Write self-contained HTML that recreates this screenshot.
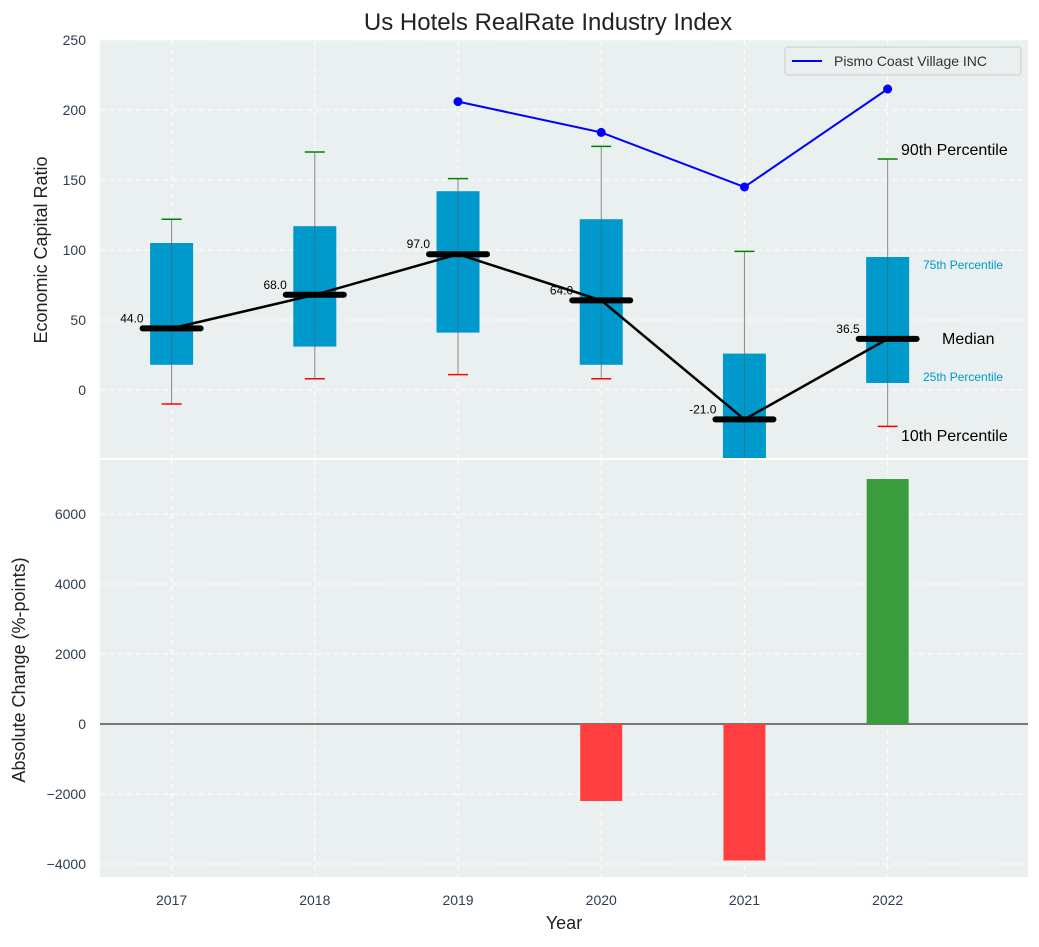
<!DOCTYPE html>
<html><head><meta charset="utf-8"><style>
body{margin:0;background:#fff;}
svg text{font-family:"Liberation Sans","DejaVu Sans",sans-serif;}
</style></head><body>
<svg id="c" width="1039" height="942" xmlns="http://www.w3.org/2000/svg"></svg>
<script>
const years=["2017","2018","2019","2020","2021","2022"];
const p10=[-10,8,11,8,-60,-26];
const p25=[18,31,41,18,-60,5];
const medians=[44,68,97,64,-21,36.5];
const p75=[105,117,142,122,26,95];
const p90=[122,170,151,174,99,165];
const companyYears=[2,3,4,5];
const companyVals=[206,184,145,215];
const changeVals=[0,0,0,-2200,-3900,7000];
const topTicks=[0,50,100,150,200,250];
const botTicks=[-4000,-2000,0,2000,4000,6000];

const NS="http://www.w3.org/2000/svg";
const svg=document.getElementById('c');
function el(t,a,p){const e=document.createElementNS(NS,t);for(const k in a)e.setAttribute(k,a[k]);(p||svg).appendChild(e);return e;}
const L=100,R=1028,T1=40,B1=458,T2=460,B2=877;
const x=i=>L+(i+0.5)*(R-L)/6.48;
const y1=v=>390-v*1.4;
const y2=v=>724-v*0.035;

// backgrounds
let bg1=el('rect',{x:L,y:T1,width:R-L,height:B1-T1,fill:'#eaeff0'});


let bg2=el('rect',{x:L,y:T2,width:R-L,height:B2-T2,fill:'#eaeff0'});



// grids
topTicks.forEach(v=>{el('line',{x1:L,x2:R,y1:y1(v),y2:y1(v),stroke:'#fff','stroke-dasharray':'5,4'});
 const t=el('text',{x:86,y:y1(v)+5,'text-anchor':'end','font-size':14,fill:'#2c3e50'});t.textContent=v;
 
 });
botTicks.forEach(v=>{el('line',{x1:L,x2:R,y1:y2(v),y2:y2(v),stroke:'#fff','stroke-dasharray':'5,4'});
 const t=el('text',{x:86,y:y2(v)+5,'text-anchor':'end','font-size':14,fill:'#2c3e50'});t.textContent=v<0?'\u2212'+Math.abs(v):v;
 
 });
years.forEach((yr,i)=>{
 el('line',{x1:x(i),x2:x(i),y1:T1,y2:B1,stroke:'#fff','stroke-dasharray':'5,4'});
 el('line',{x1:x(i),x2:x(i),y1:T2,y2:B2,stroke:'#fff','stroke-dasharray':'5,4'});
 const t=el('text',{x:x(i),y:905,'text-anchor':'middle','font-size':14,fill:'#2c3e50'});t.textContent=yr;
 
 
});

// clip for top
const defs=el('defs',{});const cp=el('clipPath',{id:'cp1'},defs);el('rect',{x:L,y:T1,width:R-L,height:B1-T1},cp);
const g=el('g',{'clip-path':'url(#cp1)'});

years.forEach((yr,i)=>{
 const cx=x(i);
 el('line',{x1:cx,x2:cx,y1:y1(p90[i]),y2:y1(p10[i]),stroke:'#888','stroke-width':1},g);
 const b=el('rect',{x:cx-21.5,y:y1(p75[i]),width:43,height:y1(p25[i])-y1(p75[i]),fill:'#0099cc'},g);
 
 
 el('line',{x1:cx,x2:cx,y1:y1(p75[i]),y2:y1(p25[i]),stroke:'#555','stroke-width':0.8,opacity:0.6},g);
 el('line',{x1:cx-10,x2:cx+10,y1:y1(p90[i]),y2:y1(p90[i]),stroke:'green','stroke-width':1.5},g);
 el('line',{x1:cx-10,x2:cx+10,y1:y1(p10[i]),y2:y1(p10[i]),stroke:'red','stroke-width':1.5},g);
});
let pts=medians.map((m,i)=>x(i)+','+y1(m)).join(' ');
let ml=el('polyline',{points:pts,fill:'none',stroke:'#000','stroke-width':2.5},g);


medians.forEach((m,i)=>{
 const cx=x(i);
 el('line',{x1:cx-29,x2:cx+29,y1:y1(m),y2:y1(m),stroke:'#000','stroke-width':6,'stroke-linecap':'round'},g);
 const t=el('text',{x:cx-28,y:y1(m)-6,'text-anchor':'end','font-size':12,fill:'#000'});t.textContent=m.toFixed(1);
 
 
});
let cl=el('polyline',{points:companyVals.map((v,k)=>x(companyYears[k])+','+y1(v)).join(' '),fill:'none',stroke:'blue','stroke-width':2},g);


companyVals.forEach((v,k)=>el('circle',{cx:x(companyYears[k]),cy:y1(v),r:4.5,fill:'blue'},g));

// annotations
[['90th Percentile',901,155,16,'#000'],['75th Percentile',923,269,12,'#0099cc'],['Median',942,344,16,'#000'],['25th Percentile',923,381,12,'#0099cc'],['10th Percentile',901,441,16,'#000']].forEach(a=>{
 const t=el('text',{x:a[1],y:a[2],'font-size':a[3],fill:a[4]});t.textContent=a[0];
 
 
});

// legend
const lg=el('g',{});


el('rect',{x:785,y:47,width:236,height:28,rx:3,fill:'#eaeff0',stroke:'#ccc'},lg);
el('line',{x1:792,x2:822,y1:61,y2:61,stroke:'blue','stroke-width':2},lg);
const lt=el('text',{x:834,y:66,'font-size':14,fill:'#333'},lg);lt.textContent='Pismo Coast Village INC';

// bars
el('line',{x1:L,x2:R,y1:y2(0),y2:y2(0),stroke:'#000','stroke-width':1});
changeVals.forEach((v,i)=>{
 if(!v)return;
 const r=el('rect',{x:x(i)-21,y:Math.min(y2(v),y2(0)),width:42,height:Math.abs(y2(v)-y2(0)),fill:v<0?'#ff3f3f':'#3a9c3d'});
 
 
});
el('line',{x1:L,x2:R,y1:459,y2:459,stroke:'#fff','stroke-width':2});

// titles
let tt=el('text',{x:548,y:30,'text-anchor':'middle','font-size':24,fill:'#222'});tt.textContent='Us Hotels RealRate Industry Index';

let ya=el('text',{x:0,y:0,'text-anchor':'middle','font-size':18,fill:'#222',transform:'translate(47,250) rotate(-90)'});ya.textContent='Economic Capital Ratio';

let yb=el('text',{x:0,y:0,'text-anchor':'middle','font-size':18,fill:'#222',transform:'translate(25,670) rotate(-90)'});yb.textContent='Absolute Change (%-points)';

let xa=el('text',{x:564,y:929,'text-anchor':'middle','font-size':18,fill:'#222'});xa.textContent='Year';

</script>
</body></html>
